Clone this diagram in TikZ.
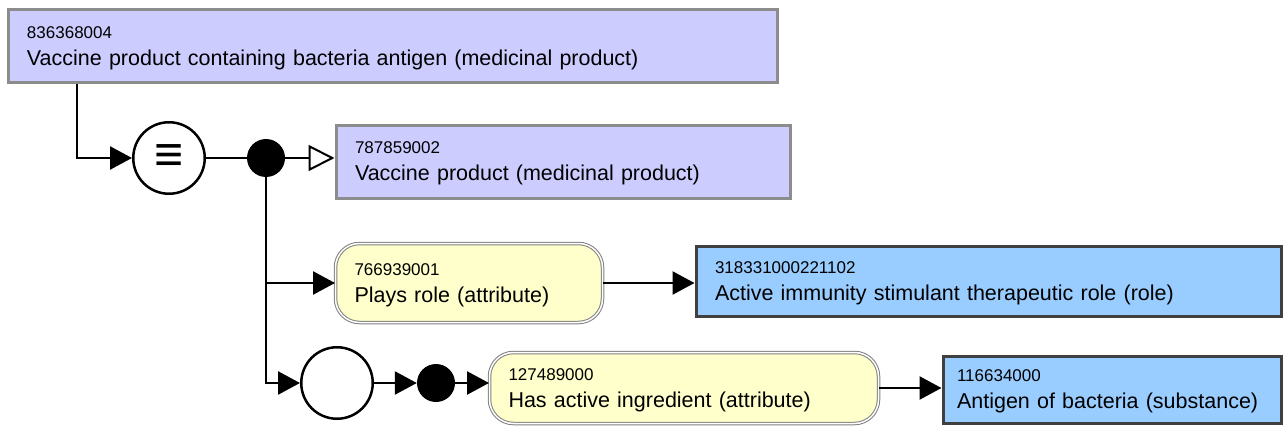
\documentclass[tikz,border=0pt]{standalone}
\usepackage{fontspec}
\setmainfont{Liberation Sans}
\usetikzlibrary{arrows.meta}
\definecolor{defined}{HTML}{CCCCFF}
\definecolor{primitive}{HTML}{99CCFF}
\definecolor{attrib}{HTML}{FFFFCC}
\definecolor{frame}{HTML}{8C8C8C}
\newcommand{\sctid}[1]{{\fontsize{17}{27}\selectfont\rule{0pt}{16pt}#1}}
\hyphenpenalty=10000

\begin{document}
\begin{tikzpicture}[x=1pt, y=-1pt, font=\fontsize{21.5}{27}\selectfont,
    concept/.style={rectangle, align=left, anchor=north west, inner xsep=19pt},
    defnode/.style={concept, draw=frame, line width=3pt, fill=defined},
    primnode/.style={concept, draw=black!75, line width=3pt, fill=primitive},
    attrnode/.style={concept, rounded corners=24pt, draw=black!50, line width=1pt, double=white, double distance=1.5pt, fill=attrib},
    ring/.style={circle, draw, line width=2.5pt, fill=white, minimum size=71.5pt, inner sep=0pt},
    dot/.style={circle, fill=black, minimum size=38pt, inner sep=0pt},
    link/.style={line width=2.5pt, -{Triangle[length=22pt,width=23pt]}},
    isa/.style={line width=2pt, -{Triangle[open,length=26pt,width=26pt,fill=white]}}]
    \useasboundingbox (0,0) rectangle (1283,428);

    \node[defnode, text width=731pt, minimum height=73pt] (vaccine) at (6.5,8.5)
        {\sctid{836368004}\\Vaccine product containing bacteria antigen (medicinal product)};
    \node[defnode, text width=416pt, minimum height=73pt] (vproduct) at (334.5,123.5)
        {\sctid{787859002}\\Vaccine product (medicinal product)};

    \node[ring] (equiv) at (169,158) {\fontsize{50}{50}\selectfont\bfseries ≡};
    \node[dot] (conj) at (266,158) {};

    % role group, then the ungrouped attribute above it
    \node[attrnode, text width=229pt, minimum height=79pt] (plays) at (335,243)
        {\sctid{766939001}\\Plays role (attribute)};
    \node[primnode, text width=547pt, minimum height=70pt] (immunity) at (694.5,244.5)
        {\sctid{318331000221102}\\Active immunity stimulant therapeutic role (role)};

    \node[ring] (group) at (337,383) {};
    \node[dot] (gconj) at (436,383) {};
    \node[attrnode, text width=351pt, minimum height=71pt] (ingredient) at (489,352)
        {\sctid{127489000}\\Has active ingredient (attribute)};
    \node[primnode, inner xsep=14pt, text width=310pt, minimum height=67pt] (antigen) at (941.5,354.5)
        {\sctid{116634000}\\Antigen of bacteria (substance)};

    \draw[link] ([xshift=70.5pt]vaccine.south west) |- (equiv);
    \draw[line width=2pt] (equiv) -- (conj);
    \draw[isa] (conj) -- (conj -| vproduct.west);
    \draw[link] (conj) |- (group);
    \draw[link] (conj |- plays.west) -- (plays.west);
    \draw[link] (plays.east) -- (plays.east -| immunity.west);
    \draw[link] (group) -- (gconj);
    \draw[link] (gconj) -- (gconj -| ingredient.west);
    \draw[link] (ingredient.east) -- (ingredient.east -| antigen.west);
\end{tikzpicture}
\end{document}
